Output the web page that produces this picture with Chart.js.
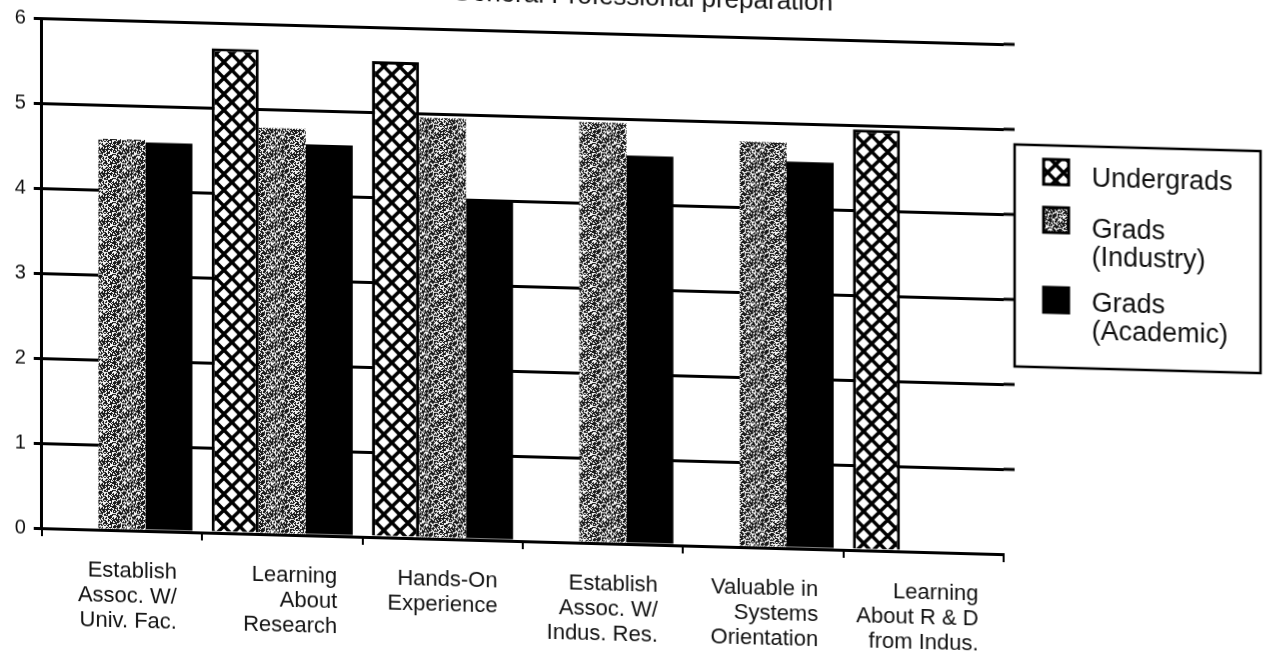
<!DOCTYPE html>
<html>
<head>
<meta charset="utf-8">
<title>General Professional preparation</title>
<script src="https://cdn.jsdelivr.net/npm/chart.js@4.4.1/dist/chart.umd.min.js"></script>
<style>
  html, body { margin: 0; padding: 0; background: #fff; }
  #frame { position: relative; width: 1265px; height: 666px; overflow: hidden; background: #fff; }
  /* the printed sheet sits slightly askew; verticals stay vertical */
  #sheet { position: absolute; left: 0; top: -40px; width: 1265px; height: 760px;
           transform: skewY(1.55deg); transform-origin: 0 0; }
</style>
</head>
<body>
<div id="frame"><div id="sheet"><canvas id="chart" width="1265" height="760"></canvas></div></div>
<script>
const chartTitle = 'General Professional preparation';
const categories = [
  ['Establish', 'Assoc. W/', 'Univ. Fac.'],
  ['Learning', 'About', 'Research'],
  ['Hands-On', 'Experience'],
  ['Establish', 'Assoc. W/', 'Indus. Res.'],
  ['Valuable in', 'Systems', 'Orientation'],
  ['Learning', 'About R & D', 'from Indus.']
];
const undergrads    = [null, 5.7, 5.6, null, null, 4.95];
const gradsIndustry = [4.6, 4.78, 4.95, 4.95, 4.77, null];
const gradsAcademic = [4.57, 4.6, 4.0, 4.57, 4.55, null];
const yTicks = [0, 1, 2, 3, 4, 5, 6];
const seriesNames = [['Undergrads'], ['Grads', '(Industry)'], ['Grads', '(Academic)']];

const FONT = '"Liberation Sans", Arial, sans-serif';
const INK = '#111';

// diagonal cross-hatch (white diamonds on black lines)
function crossHatch() {
  const s = 16;
  const c = document.createElement('canvas');
  c.width = c.height = s;
  const g = c.getContext('2d');
  g.fillStyle = '#fff';
  g.fillRect(0, 0, s, s);
  g.strokeStyle = '#000';
  g.lineWidth = 3.4;
  for (let k = -1; k <= 1; k++) {
    g.beginPath();
    g.moveTo(k * s, 0); g.lineTo(k * s + s, s);
    g.moveTo(k * s + s, 0); g.lineTo(k * s, s);
    g.stroke();
  }
  return g.createPattern(c, 'repeat');
}

// coarse grey stipple: fixed dither of white specks on black
function stipple() {
  const s = 24;
  const c = document.createElement('canvas');
  c.width = c.height = s;
  const g = c.getContext('2d');
  g.fillStyle = '#1a1a1a';
  g.fillRect(0, 0, s, s);
  g.fillStyle = '#f4f4f4';
  for (let y = 0; y < s; y++) {
    for (let x = 0; x < s; x++) {
      const h = (x * 37 + Math.floor(y / 2) * 91 + ((x * y) % 7) * 13) % 17;
      if (h < 7) g.fillRect(x, y, 1, 1);
    }
  }
  return g.createPattern(c, 'repeat');
}

const hatch = crossHatch();
const grain = stipple();
const fills = [hatch, grain, '#000'];

// title runs off the top edge of the sheet
const titlePlugin = {
  id: 'sheetTitle',
  afterDraw(chart) {
    const ctx = chart.ctx;
    ctx.save();
    ctx.font = '26px ' + FONT;
    ctx.fillStyle = INK;
    ctx.textAlign = 'center';
    ctx.textBaseline = 'alphabetic';
    ctx.fillText(chartTitle, chart.width / 2 + 10, chart.chartArea.top - 29);
    ctx.restore();
  }
};

// boxed legend to the right, with the grid lines running up to it
const boxLegend = {
  id: 'boxLegend',
  afterDraw(chart) {
    const ctx = chart.ctx;
    const area = chart.chartArea;
    const y = chart.scales.y;
    const left = 1015;
    const top = area.top + 100;
    const w = 246, h = 222;
    ctx.save();

    ctx.strokeStyle = '#000';
    ctx.lineWidth = 3;
    y.ticks.forEach(t => {
      if (t.value === 0) return;
      const py = y.getPixelForValue(t.value);
      ctx.beginPath();
      ctx.moveTo(area.right, py);
      ctx.lineTo(left, py);
      ctx.stroke();
    });

    ctx.fillStyle = '#fff';
    ctx.fillRect(left, top, w, h);
    ctx.lineWidth = 2.5;
    ctx.strokeRect(left, top, w, h);

    const iconTops = [14, 62, 142];
    const lineYs = [[33], [84, 112], [158, 186]];
    ctx.font = '27px ' + FONT;
    ctx.textBaseline = 'middle';
    ctx.textAlign = 'left';
    chart.data.datasets.forEach((ds, i) => {
      const ix = left + 29, iy = top + iconTops[i];
      ctx.fillStyle = fills[i];
      ctx.fillRect(ix, iy, 25, 25);
      ctx.lineWidth = 3;
      ctx.strokeStyle = '#000';
      ctx.strokeRect(ix, iy, 25, 25);
      ctx.fillStyle = INK;
      seriesNames[i].forEach((line, j) => {
        ctx.fillText(line, left + 77, top + lineYs[i][j]);
      });
    });
    ctx.restore();
  }
};

new Chart(document.getElementById('chart'), {
  type: 'bar',
  data: {
    labels: categories,
    datasets: [
      { label: seriesNames[0].join(' '), data: undergrads, backgroundColor: hatch, borderColor: '#000', borderWidth: 3 },
      { label: seriesNames[1].join(' '), data: gradsIndustry, backgroundColor: grain, borderWidth: 0 },
      { label: seriesNames[2].join(' '), data: gradsAcademic, backgroundColor: '#000', borderWidth: 0 }
    ]
  },
  options: {
    responsive: false,
    animation: false,
    layout: { padding: { top: 57, left: 0, right: 261, bottom: 69 } },
    datasets: { bar: { categoryPercentage: 0.88, barPercentage: 1 } },
    plugins: {
      legend: { display: false },
      tooltip: { enabled: false }
    },
    scales: {
      x: {
        grid: { drawOnChartArea: false, color: '#000', lineWidth: 2, tickLength: 8 },
        border: { color: '#000', width: 3 },
        ticks: {
          color: INK,
          font: { family: FONT, size: 22, lineHeight: 1.15 },
          align: 'end',
          labelOffset: 55,
          maxRotation: 0,
          autoSkip: false,
          padding: 20
        }
      },
      y: {
        min: yTicks[0],
        max: yTicks[yTicks.length - 1],
        ticks: { stepSize: 1, color: INK, font: { family: FONT, size: 20 }, padding: 8 },
        grid: { color: '#000', lineWidth: 3, tickLength: 8 },
        border: { color: '#000', width: 3 }
      }
    }
  },
  plugins: [titlePlugin, boxLegend]
});
</script>
</body>
</html>
